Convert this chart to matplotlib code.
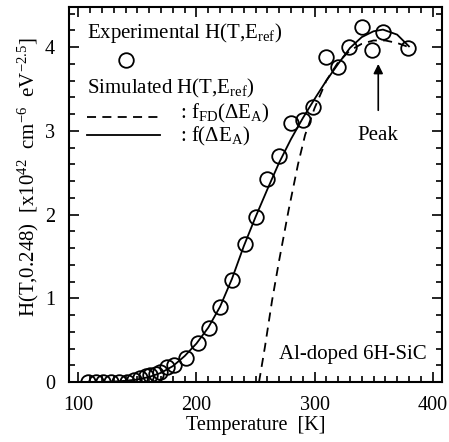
import matplotlib
matplotlib.use("Agg")
import matplotlib.pyplot as plt
import numpy as np
from matplotlib.ticker import MultipleLocator

plt.rcParams['font.family'] = ['Liberation Serif', 'DejaVu Serif']
plt.rcParams['mathtext.fontset'] = 'custom'
plt.rcParams['mathtext.rm'] = 'Liberation Serif'
plt.rcParams['mathtext.it'] = 'Liberation Serif:italic'
plt.rcParams['mathtext.bf'] = 'Liberation Serif:bold'

# experimental points
exp_T = [108, 115, 121, 128, 134, 141, 147, 152, 157, 161, 166, 169, 175, 181,
         191, 201, 211, 220, 230, 241, 250, 260, 270, 280, 290, 299, 310, 320,
         329, 340, 349, 358, 379]
exp_H = [0.0, 0.0, 0.0, 0.0, 0.0, 0.0, 0.02, 0.05, 0.07, 0.08, 0.1, 0.12, 0.18, 0.2,
         0.29, 0.46, 0.64, 0.90, 1.22, 1.65, 1.97, 2.42, 2.70, 3.09, 3.13, 3.29, 3.88, 3.76,
         4.00, 4.24, 3.97, 4.18, 3.99]

# simulated f(dE_A)
sim_T = [105, 120, 130, 140, 150, 160, 170, 180, 190, 200, 210, 220, 230, 240, 250,
         260, 270, 280, 290, 300, 310, 320, 330, 340, 350, 358, 370, 380]
sim_H = [0.0, 0.0, 0.005, 0.015, 0.03, 0.06, 0.11, 0.19, 0.31, 0.46, 0.65, 0.9, 1.23,
         1.62, 1.97, 2.3, 2.62, 2.9, 3.15, 3.38, 3.6, 3.8, 3.99, 4.12, 4.19, 4.21, 4.15, 4.01]

# simulated f_FD(dE_A)
fd_T = [253, 258, 264, 270, 278, 286, 292, 300, 310, 320, 330, 340, 350, 360, 370, 380]
fd_H = [0.0, 0.42, 0.97, 1.45, 2.05, 2.6, 2.95, 3.27, 3.6, 3.82, 3.96, 4.04, 4.08, 4.08, 4.05, 4.0]

fig = plt.figure(figsize=(4.49, 4.42), dpi=100)
ax = fig.add_axes([69 / 449, 60 / 442, 373 / 449, 375 / 442])

ax.plot(sim_T, sim_H, 'k-', lw=1.3)
ax.plot(fd_T, fd_H, 'k--', lw=1.3, dashes=(5, 3.5))
ax.plot(exp_T, exp_H, 'o', mfc='none', mec='k', ms=10.5, mew=1.3)

ax.set_xlim(92, 408)
ax.set_ylim(0, 4.48)
ax.xaxis.set_major_locator(MultipleLocator(100))
ax.xaxis.set_minor_locator(MultipleLocator(10))
ax.yaxis.set_major_locator(MultipleLocator(1))
ax.yaxis.set_minor_locator(MultipleLocator(0.2))
ax.tick_params(which='both', direction='in', top=True, right=True, labelsize=14.5, width=1.2)
ax.tick_params(which='major', length=7)
ax.tick_params(which='minor', length=4)
ax.tick_params(axis='x', which='major', pad=10)
ax.tick_params(axis='y', which='major', pad=10)
for s in ax.spines.values():
    s.set_linewidth(1.5)

ax.set_xlabel('Temperature  [K]', fontsize=14.5, labelpad=1)
ax.set_ylabel(r'H(T,0.248)  [x10$^{42}$  cm$^{-6}$  eV$^{-2.5}$]', fontsize=15)
ax.yaxis.set_label_coords(-0.075, 0.545)

# legend block
tr = ax.transAxes
ax.text(0.048, 0.931, r'Experimental H(T,E$_{\rm ref}$)', transform=tr, fontsize=15, va='center')
ax.plot([0.153], [0.859], 'o', mfc='none', mec='k', ms=10.5, mew=1.3, transform=tr)
ax.text(0.048, 0.784, r'Simulated H(T,E$_{\rm ref}$)', transform=tr, fontsize=15, va='center')
ax.plot([0.048, 0.244], [0.707, 0.707], 'k--', lw=1.3, dashes=(5, 3.5), transform=tr)
ax.text(0.298, 0.716, r': f$_{\rm FD}$($\Delta$E$_{\rm A}$)', transform=tr, fontsize=15, va='center')
ax.plot([0.048, 0.244], [0.659, 0.659], 'k-', lw=1.3, transform=tr)
ax.text(0.298, 0.654, r': f($\Delta$E$_{\rm A}$)', transform=tr, fontsize=15, va='center')

ax.annotate('Peak', xy=(354, 3.8), xytext=(354, 2.95), ha='center', va='center', fontsize=15,
            arrowprops=dict(arrowstyle='-|>', color='k', lw=1.2, shrinkA=9, shrinkB=0,
                            mutation_scale=14))
ax.text(0.96, 0.072, 'Al-doped 6H-SiC', transform=tr, ha='right', va='center', fontsize=15)

fig.savefig('out.png', dpi=100)
